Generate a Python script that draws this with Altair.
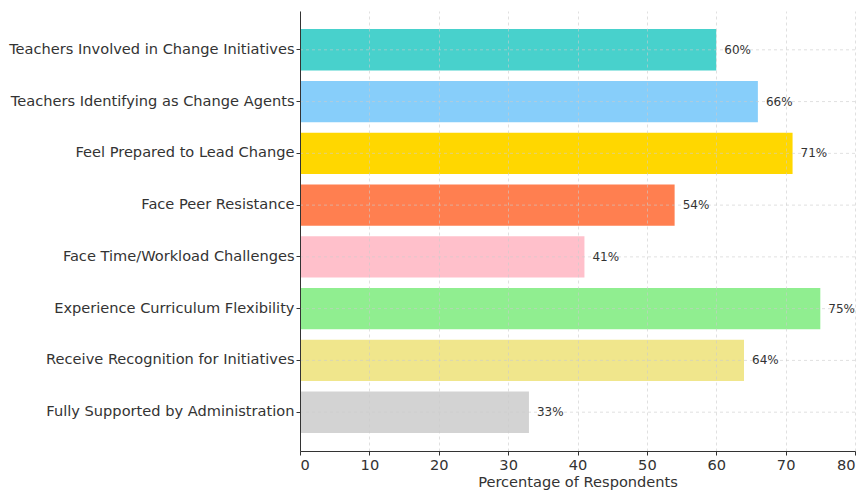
import altair as alt
import pandas as pd

categories = [
    "Teachers Involved in Change Initiatives",
    "Teachers Identifying as Change Agents",
    "Feel Prepared to Lead Change",
    "Face Peer Resistance",
    "Face Time/Workload Challenges",
    "Experience Curriculum Flexibility",
    "Receive Recognition for Initiatives",
    "Fully Supported by Administration",
]
values = [60, 66, 71, 54, 41, 75, 64, 33]
colors = ["#48D1CC", "#87CEFA", "#FFD700", "#FF7F50", "#FFC0CB", "#90EE90", "#F0E68C", "#D3D3D3"]

df = pd.DataFrame({"cat": categories, "val": values, "color": colors,
                   "label": [f"{v}%" for v in values]})

font = "DejaVu Sans"
txt = "#333333"

y_scale = alt.Scale(paddingInner=0.2, paddingOuter=0.35)
y_enc = alt.Y("cat:N", sort=categories, scale=y_scale,
              axis=alt.Axis(title=None, labelFontSize=14.6, labelColor=txt,
                            labelFont=font, tickSize=4, tickColor=txt, bandPosition=0.5,
                            domainColor=txt, labelPadding=2, labelLimit=400,
                            grid=False, zindex=1))
x_enc = alt.X("val:Q", scale=alt.Scale(domain=[0, 80], nice=False),
              axis=alt.Axis(title="Percentage of Respondents", values=list(range(0, 81, 10)),
                            labelFontSize=14.6, labelColor=txt, labelFont=font,
                            titleFont=font, titleFontSize=14.6, titleFontWeight="normal",
                            titleColor=txt, titlePadding=3,
                            tickSize=4, tickColor=txt, domainColor=txt,
                            grid=True, gridDash=[3, 3], gridColor="#cccccc",
                            gridOpacity=0.6, zindex=1))

bars = alt.Chart(df).mark_bar().encode(
    y=y_enc, x=x_enc,
    color=alt.Color("color:N", scale=None),
)
hgrid = alt.Chart(df).mark_rule(strokeDash=[3, 3], color="#cccccc", opacity=0.6).encode(
    y=alt.Y("cat:N", sort=categories),
    x=alt.value(0), x2=alt.value(555),
)
text = alt.Chart(df).mark_text(align="left", dx=8, fontSize=12, font=font, color=txt).encode(
    y=alt.Y("cat:N", sort=categories), x="val:Q", text="label:N"
)

chart = (bars + hgrid + text).properties(
    width=555, height=440,
    autosize=alt.AutoSizeParams(type="none"),
    padding={"left": 300, "top": 11, "right": 9, "bottom": 40},
).configure(background="white").configure_view(strokeWidth=0)

chart.save("out.html", embed_options={"renderer": "svg", "actions": False})
